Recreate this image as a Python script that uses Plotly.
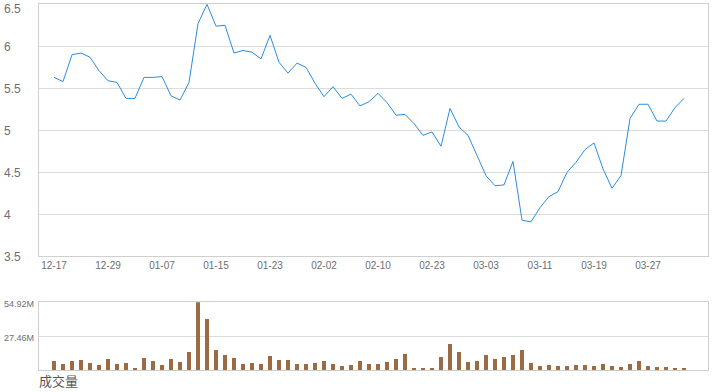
import plotly.graph_objects as go

# ---- data ----
day_index = list(range(71))
tick_positions = [0, 6, 12, 18, 24, 30, 36, 42, 48, 54, 60, 66]
tick_labels = ["12-17", "12-29", "01-07", "01-15", "01-23", "02-02",
               "02-10", "02-23", "03-03", "03-11", "03-19", "03-27"]

price = [5.63, 5.58, 5.90, 5.92, 5.87, 5.71, 5.59, 5.57, 5.38, 5.38,
         5.63, 5.63, 5.64, 5.41, 5.36, 5.57, 6.27, 6.50, 6.24, 6.25,
         5.92, 5.95, 5.93, 5.85, 6.13, 5.81, 5.68, 5.80, 5.75, 5.56,
         5.40, 5.52, 5.38, 5.43, 5.29, 5.34, 5.44, 5.33, 5.18, 5.19,
         5.08, 4.94, 4.98, 4.81, 5.26, 5.04, 4.94, 4.70, 4.46, 4.34,
         4.35, 4.63, 3.93, 3.91, 4.08, 4.21, 4.27, 4.50, 4.62, 4.77,
         4.85, 4.54, 4.31, 4.46, 5.14, 5.31, 5.31, 5.11, 5.11, 5.27,
         5.38]

volume_m = [7.3, 4.9, 7.3, 8.1, 5.7, 4.1, 8.9, 4.9, 5.7, 0.8,
            9.7, 7.3, 4.1, 8.9, 6.5, 14.6, 54.92, 41.4, 16.2, 12.2,
            9.7, 4.9, 5.7, 4.9, 11.4, 8.1, 8.1, 4.9, 4.9, 5.7,
            7.3, 4.9, 3.2, 4.1, 7.3, 4.9, 4.9, 6.5, 8.9, 13.0,
            1.6, 1.6, 1.6, 10.5, 21.1, 14.6, 6.5, 7.3, 12.2, 8.9,
            10.5, 12.2, 16.2, 5.7, 3.2, 4.1, 3.2, 3.2, 4.1, 4.1,
            3.2, 4.9, 3.2, 2.4, 4.9, 7.3, 3.2, 2.4, 2.4, 1.6,
            1.6]

price_ticks = [3.5, 4, 4.5, 5, 5.5, 6, 6.5]
price_tick_labels = ["3.5", "4", "4.5", "5", "5.5", "6", "6.5"]
vol_ticks = [27.46, 54.92]
vol_tick_labels = ["27.46M", "54.92M"]
vol_title = "成交量"

# ---- figure ----
W, H = 720, 392
L, R = 39, 12
plot_w = W - L - R
x_range = [-1.667, 72.667]
label_x = (2 - L) / plot_w

grid = "#dcdcdc"
axis_line = "#cfcfcf"
txt = "#6e6e6e"
font = "Liberation Sans, Arial, sans-serif"

fig = go.Figure()
fig.add_trace(go.Scatter(x=day_index, y=price, mode="lines",
                         line=dict(color="#2b8ce0", width=1),
                         xaxis="x", yaxis="y", hoverinfo="skip"))
fig.add_trace(go.Bar(x=day_index, y=[v * 1e6 for v in volume_m],
                     marker=dict(color="#9a6b45", line=dict(width=0)),
                     width=0.36, xaxis="x2", yaxis="y2", hoverinfo="skip"))

annotations = []
top_tick = max(price_ticks)
for v, t in zip(price_ticks, price_tick_labels):
    if v == top_tick:
        annotations.append(dict(x=label_x, xref="paper", y=v, yref="y", text=t,
                                showarrow=False, xanchor="left", yanchor="top",
                                yshift=4, font=dict(family=font, size=12, color=txt)))
    else:
        annotations.append(dict(x=label_x, xref="paper", y=v, yref="y", text=t,
                                showarrow=False, xanchor="left", yanchor="middle",
                                yshift=-1, font=dict(family=font, size=12, color=txt)))
for v, t in zip(vol_ticks, vol_tick_labels):
    annotations.append(dict(x=label_x, xref="paper", y=v * 1e6, yref="y2", text=t,
                            showarrow=False, xanchor="left", yanchor="middle",
                            yshift=-2, font=dict(family=font, size=9, color=txt)))
annotations.append(dict(x=(37 - L) / plot_w, xref="paper", y=0, yref="paper",
                        text=vol_title, showarrow=False, xanchor="left", yanchor="bottom",
                        font=dict(family="Noto Sans CJK SC", size=13, color="#555555")))

fig.update_layout(
    width=W, height=H,
    margin=dict(l=L, r=R, t=0, b=0),
    paper_bgcolor="white", plot_bgcolor="white",
    showlegend=False,
    bargap=0,
    annotations=annotations,
    xaxis=dict(domain=[0, 1], range=x_range, anchor="y",
               tickmode="array", tickvals=tick_positions, ticktext=tick_labels,
               tickfont=dict(family=font, size=10, color=txt),
               showgrid=False, zeroline=False, ticks="",
               showline=True, linecolor=axis_line, linewidth=1, mirror=True),
    yaxis=dict(domain=[1 - 256.3 / H, 1 - 4.3 / H], range=[3.5, 6.5],
               tickmode="array", tickvals=price_ticks, showticklabels=False,
               showgrid=True, gridcolor=grid, gridwidth=1, zeroline=False,
               showline=True, linecolor=axis_line, linewidth=1, mirror=True),
    xaxis2=dict(domain=[0, 1], range=x_range, anchor="y2",
                showticklabels=False, showgrid=False, zeroline=False, ticks="",
                showline=True, linecolor=axis_line, linewidth=1, mirror=True),
    yaxis2=dict(domain=[1 - 370 / H, 1 - 302.3 / H], range=[0, 54.92e6],
                tickmode="array", tickvals=[v * 1e6 for v in vol_ticks],
                showticklabels=False, showgrid=True, gridcolor=grid, gridwidth=1,
                zeroline=False, anchor="x2",
                showline=True, linecolor=axis_line, linewidth=1, mirror=True),
)

fig.write_html("out.html")
